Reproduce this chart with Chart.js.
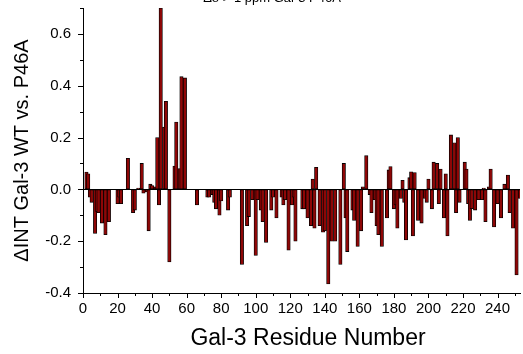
<!DOCTYPE html>
<html>
<head>
<meta charset="utf-8">
<script src="https://cdn.jsdelivr.net/npm/chart.js@4.4.1/dist/chart.umd.min.js"></script>
<style>
  html, body { margin: 0; padding: 0; background: #fff; }
  #wrap { width: 523px; height: 354px; position: relative; }
</style>
</head>
<body>
<div id="wrap"><canvas id="c" width="523" height="354"></canvas></div>
<script>
// Residue numbers (x) and intensity change (y)
const residues = [
  2, 3, 4, 5, 7, 8, 9, 11, 13, 15,
  20, 21, 22, 26, 29, 30, 32, 34, 35, 37,
  38, 39, 40, 42, 43, 44, 45, 47, 48, 50,
  53, 54, 56, 57, 59, 66, 72, 73, 75, 76,
  77, 79, 80, 84, 85, 92, 95, 96, 98, 100,
  101, 103, 104, 106, 109, 110, 112, 115, 116, 117,
  119, 121, 122, 123, 127, 128, 130, 132, 133, 134,
  135, 137, 139, 140, 142, 144, 146, 149, 151, 152,
  153, 156, 157, 159, 161, 162, 164, 166, 167, 169,
  170, 171, 173, 176, 177, 178, 180, 181, 182, 184,
  185, 186, 187, 189, 190, 191, 192, 194, 196, 198,
  199, 200, 202, 203, 205, 206, 207, 209, 210, 211,
  213, 215, 216, 217, 218, 221, 222, 223, 224, 225,
  227, 229, 231, 232, 233, 235, 236, 238, 240, 242,
  244, 246, 247, 249, 251, 253
];
const deltaInt = [
  0.067, 0.06, -0.03, -0.05, -0.17, -0.085, -0.09, -0.13, -0.175, -0.125,
  -0.055, -0.03, -0.055, 0.12, -0.09, -0.08, 0.005, 0.10, -0.015, -0.01,
  -0.16, 0.02, 0.015, 0.01, 0.20, -0.06, 0.70, 0.24, 0.34, -0.28,
  0.09, 0.26, 0.08, 0.435, 0.43, -0.06, -0.03, -0.03, -0.02, -0.05,
  -0.075, -0.10, -0.045, -0.08, -0.03, -0.29, -0.14, -0.105, -0.04, -0.255,
  -0.04, -0.08, -0.125, -0.205, -0.08, -0.03, -0.11, -0.03, -0.06, -0.04,
  -0.235, -0.06, -0.03, -0.20, -0.075, -0.075, -0.11, -0.14, 0.04, -0.15,
  0.085, -0.14, -0.165, -0.16, -0.365, -0.20, -0.20, -0.29, 0.10, -0.11,
  -0.24, -0.08, -0.12, -0.22, -0.16, 0.01, 0.13, -0.02, -0.09, -0.04,
  -0.14, -0.175, -0.22, -0.11, 0.075, 0.088, -0.075, -0.06, -0.15, -0.035,
  0.035, -0.05, -0.195, 0.045, 0.068, -0.18, 0.065, -0.12, -0.13, -0.035,
  -0.05, 0.04, -0.075, 0.105, 0.10, -0.055, 0.078, -0.11, 0.06, -0.18,
  0.21, 0.18, -0.09, 0.20, -0.05, 0.105, 0.078, -0.055, -0.12, -0.075,
  -0.08, -0.04, -0.04, 0.005, -0.125, 0.01, 0.078, -0.145, -0.055, -0.11,
  0.02, 0.055, -0.09, -0.15, -0.33, -0.035
];
const xTickValues = [0, 10, 20, 30, 40, 50, 60, 70, 80, 90, 100, 110, 120, 130, 140, 150, 160, 170, 180, 190, 200, 210, 220, 230, 240, 250];
const yTickValues = [-0.4, -0.3, -0.2, -0.1, 0, 0.1, 0.2, 0.3, 0.4, 0.5, 0.6, 0.7];
const xTitle = 'Gal-3 Residue Number';
const yTitle = '\u0394INT Gal-3 WT vs. P46A';
const topTitle = '\u0394\u03b4 > 1 ppm Gal-3 P46A';

const points = residues.map((r, i) => ({ x: r, y: deltaInt[i] }));

const FONT = "'Liberation Sans', Arial, sans-serif";

// Draws the outward tick marks (long for labelled, short for unlabelled),
// the x-axis title and the clipped top title.
const decorPlugin = {
  id: 'decor',
  afterDraw(chart) {
    const ctx = chart.ctx;
    const xs = chart.scales.x, ys = chart.scales.y;
    const area = chart.chartArea;
    ctx.save();
    ctx.strokeStyle = '#000';
    ctx.lineWidth = 1;
    ctx.beginPath();
    xs.ticks.forEach(t => {
      const px = Math.round(xs.getPixelForValue(t.value)) + 0.5;
      const len = (t.value % 20 === 0) ? 5 : 3;
      ctx.moveTo(px, area.bottom);
      ctx.lineTo(px, area.bottom + len);
    });
    ys.ticks.forEach(t => {
      const py = Math.round(ys.getPixelForValue(t.value)) + 0.5;
      const k = Math.round(t.value * 10);
      const len = (k % 2 === 0) ? 5 : 3;
      ctx.moveTo(area.left, py);
      ctx.lineTo(area.left - len, py);
    });
    ctx.stroke();

    ctx.fillStyle = '#000';
    ctx.textAlign = 'center';
    ctx.textBaseline = 'middle';
    ctx.font = '23px ' + FONT;
    ctx.fillText(xTitle, 308, 339);

    ctx.font = '13px ' + FONT;
    ctx.textBaseline = 'alphabetic';
    ctx.fillText(topTitle, 272, 2);
    ctx.restore();
  }
};

new Chart(document.getElementById('c'), {
  type: 'bar',
  data: {
    datasets: [{
      data: points,
      backgroundColor: '#8e0606',
      borderColor: '#000',
      borderWidth: 0.8,
      barThickness: 3.4,
      borderSkipped: false
    }]
  },
  options: {
    responsive: false,
    animation: false,
    devicePixelRatio: 1,
    layout: { padding: { top: 8, right: 3, left: 0, bottom: 0 } },
    plugins: { legend: { display: false }, tooltip: { enabled: false } },
    scales: {
      x: {
        type: 'linear',
        min: 0,
        max: 253,
        offset: false,
        afterBuildTicks(scale) { scale.ticks = xTickValues.map(v => ({ value: v })); },
        afterFit(scale) { scale.height = 61; scale.paddingLeft = 0; scale.paddingRight = 0; },
        grid: {
          offset: false,
          display: true,
          drawOnChartArea: false,
          drawTicks: false
        },
        border: { display: true, color: '#000', width: 1 },
        ticks: {
          autoSkip: false,
          maxRotation: 0,
          padding: 7,
          color: '#000',
          font: { family: FONT, size: 15 },
          callback: (v) => (v % 20 === 0 ? String(v) : '')
        },
        title: { display: false }
      },
      y: {
        min: -0.4,
        max: 0.7,
        afterBuildTicks(scale) { scale.ticks = yTickValues.map(v => ({ value: v })); },
        afterFit(scale) { scale.width = 83; scale.paddingTop = 0; scale.paddingBottom = 0; },
        grid: {
          display: true,
          drawOnChartArea: true,
          drawTicks: false,
          color: (c) => (c.tick && Math.abs(c.tick.value) < 1e-9 ? '#000' : 'rgba(0,0,0,0)')
        },
        border: { display: true, color: '#000', width: 1 },
        ticks: {
          autoSkip: false,
          padding: 12,
          color: '#000',
          font: { family: FONT, size: 15 },
          callback: (v) => {
            const k = Math.round(v * 10);
            return (k % 2 === 0) ? (k / 10).toFixed(1) : '';
          }
        },
        title: {
          display: true,
          text: yTitle,
          color: '#000',
          font: { family: FONT, size: 20, lineHeight: 1.2 },
          padding: { top: 10, bottom: 0 }
        }
      }
    }
  },
  plugins: [decorPlugin]
});
</script>
</body>
</html>
